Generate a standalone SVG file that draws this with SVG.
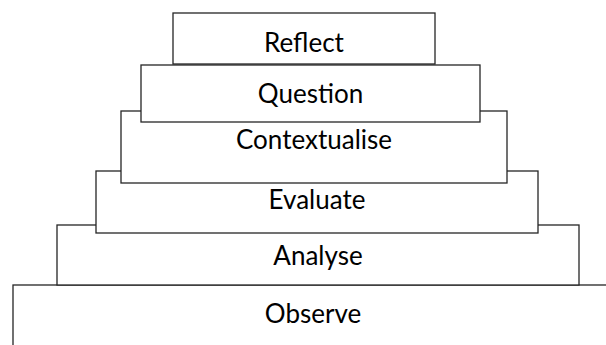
<svg xmlns="http://www.w3.org/2000/svg" width="606" height="345" viewBox="0 0 606 345">
<style>
rect.box{fill:#ffffff;stroke:#262626;stroke-width:1.3}
text{font-family:Lato,"Open Sans","Liberation Sans",sans-serif;font-size:26px;fill:#000000;text-anchor:middle}
</style>
<rect width="606" height="345" fill="#ffffff"/>
<g id="connectors"/>
<g id="observe"><rect class="box" x="13" y="285" width="700" height="120"/><text x="313" y="323">Observe</text></g>
<g id="analyse"><rect class="box" x="57" y="225" width="522" height="60"/><text x="318" y="265">Analyse</text></g>
<g id="evaluate"><rect class="box" x="96" y="171" width="442" height="62"/><text x="317" y="209">Evaluate</text></g>
<g id="contextualise"><rect class="box" x="121" y="111" width="386" height="72"/><text x="314" y="149">Contextualise</text></g>
<g id="question"><rect class="box" x="141" y="65" width="339" height="57"/><text x="310.5" y="103">Question</text></g>
<g id="reflect"><rect class="box" x="173" y="13" width="262" height="51"/><text x="304" y="52">Reflect</text></g>
</svg>
